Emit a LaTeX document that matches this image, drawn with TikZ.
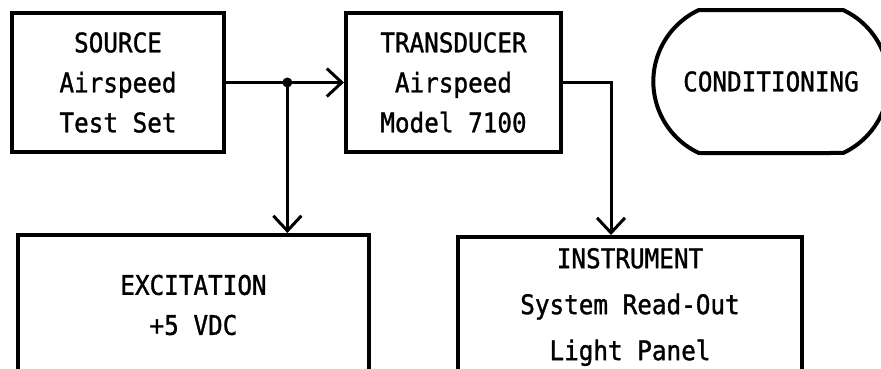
\documentclass[tikz,border=0pt]{standalone}
\usepackage{fontspec}
\setmonofont[FakeStretch=0.9, FakeBold=1.2]{DejaVu Sans Mono}
\usepackage{tikz}
\usetikzlibrary{arrows.meta,positioning,shapes.misc}

\begin{document}
\begin{tikzpicture}[
x=1pt, y=-1pt,
node distance=118pt,
blk/.style={draw, line width=4pt, align=center, minimum height=139pt,
  font=\ttfamily\fontsize{27}{40}\selectfont},
capsule/.style={draw, line width=4pt, rounded rectangle, rounded rectangle arc length=130,
  minimum width=242pt, minimum height=143pt, font=\ttfamily\fontsize{27}{40}\selectfont},
arr/.style={-{Straight Barb[length=15pt, width=28pt]}, line width=3pt}
]
\useasboundingbox (0,0) rectangle (881,368);
\clip (0,0) rectangle (881,368);

\node[blk, minimum width=212pt] (src) at (118,82.5) {SOURCE\\Airspeed\\Test Set};
\node[blk, minimum width=215pt, right=of src] (trans) {TRANSDUCER\\Airspeed\\Model 7100};
\node[capsule] (cond) at (771,81.5) {CONDITIONING};
\node[blk, minimum width=351pt, minimum height=140pt] (exc) at (193.5,305) {EXCITATION\\+5 VDC};
\node[blk, minimum width=344pt, minimum height=140pt] (instr) at (630,307)
  {INSTRUMENT\\[6pt]System Read-Out\\[6pt]Light Panel};

\path (src.east) -- coordinate[pos=0.52] (jn) (trans.west);

\draw[arr] (src.east) -- (trans.west);
\fill (jn) circle (5pt);
\draw[arr] (jn) -- (jn |- exc.north);
\draw[arr] (trans.east) -| ([xshift=48pt]trans.east |- instr.north);
\end{tikzpicture}
\end{document}
